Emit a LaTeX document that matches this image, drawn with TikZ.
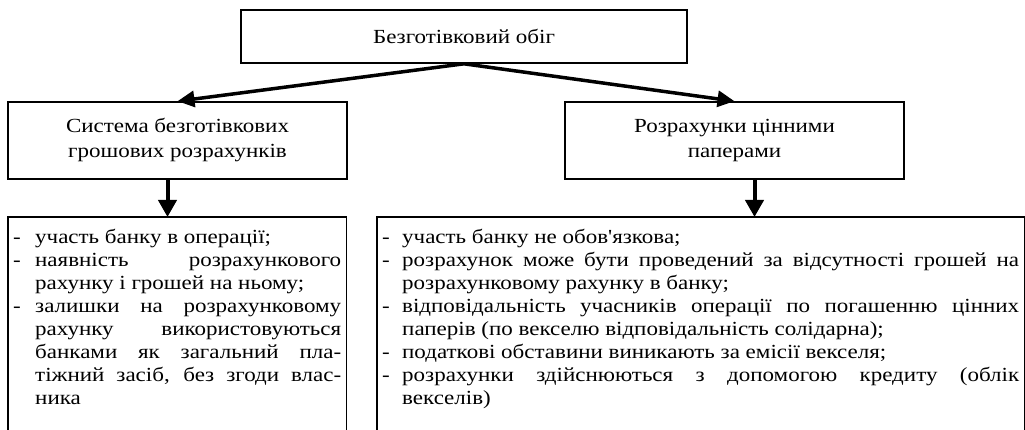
\documentclass[tikz,border=0pt]{standalone}
\usepackage{fontspec}
\setmainfont{Liberation Serif}[FakeStretch=1.15]
\newfontfamily\plainserif{Liberation Serif}[FakeStretch=1.15]
\usetikzlibrary{arrows.meta}

\newlength{\itmw}
\newcommand{\itm}{\par\noindent\hangindent=\itmw\hangafter=1\makebox[\itmw][l]{-}\ignorespaces}
\newcommand{\listset}{\tolerance=10000\hbadness=10000\hyphenpenalty=10000\relax}
\newcommand{\apos}{{\plainserif'}}

\begin{document}
\begin{tikzpicture}[x=1pt,y=-1pt,
  font=\fontsize{20}{23}\selectfont,
  box/.style={draw, line width=1.6pt, align=center, inner sep=0pt},
  listtext/.style={anchor=north west, inner xsep=5pt, inner ysep=3pt, align=justify},
  frame/.style={line width=1.6pt},
  diagarr/.style={line width=3.5pt, -{Triangle[length=17pt,width=16pt]}},
  downarr/.style={line width=4pt, -{Triangle[length=17pt,width=18pt]}}]
\useasboundingbox (0,0) rectangle (1025,430);
\clip (0,0) rectangle (1025,430);

\node[box, minimum width=446pt, minimum height=53pt] (obig) at (464,36.5) {Безготівковий обіг};
\node[box, minimum width=339pt, minimum height=77pt] (sist) at (177.5,140.5) {Система безготівкових\\[2pt]грошових розрахунків};
\node[box, minimum width=339pt, minimum height=77pt] (cinni) at (734.5,140.5) {Розрахунки цінними\\[2pt]паперами};

\node[listtext, text width=328pt] (sistlist) at (8,217) {\listset\setlength{\itmw}{22pt}%
\itm участь банку в операції;
\itm наявність розрахункового\linebreak рахунку і грошей на ньому;
\itm залишки на розрахунковому\linebreak рахунку використовуються\linebreak банками як загальний пла-\linebreak тіжний засіб, без згоди влас-\linebreak ника\par};
\node[listtext, text width=637pt] (cinnilist) at (377,217) {\listset\setlength{\itmw}{20pt}%
\itm участь банку не обов\apos язкова;
\itm розрахунок може бути проведений за відсутності грошей на\linebreak розрахунковому рахунку в банку;
\itm відповідальність учасників операції по погашенню цінних\linebreak паперів (по векселю відповідальність солідарна);
\itm податкові обставини виникають за емісії векселя;
\itm розрахунки здійснюються з допомогою кредиту (облік\linebreak векселів)\par};
\draw[frame] (sistlist.north west) rectangle ([yshift=-60pt]sistlist.south east);
\draw[frame] (cinnilist.north west) rectangle ([yshift=-60pt]cinnilist.south east);

\draw[diagarr] (obig.south) -- (sist.north);
\draw[diagarr] (obig.south) -- (cinni.north);
\draw[downarr] ([xshift=-10pt]sist.south) -- ([xshift=-10pt]sist.south |- sistlist.north);
\draw[downarr] ([xshift=20pt]cinni.south) -- ([xshift=20pt]cinni.south |- cinnilist.north);
\end{tikzpicture}
\end{document}
